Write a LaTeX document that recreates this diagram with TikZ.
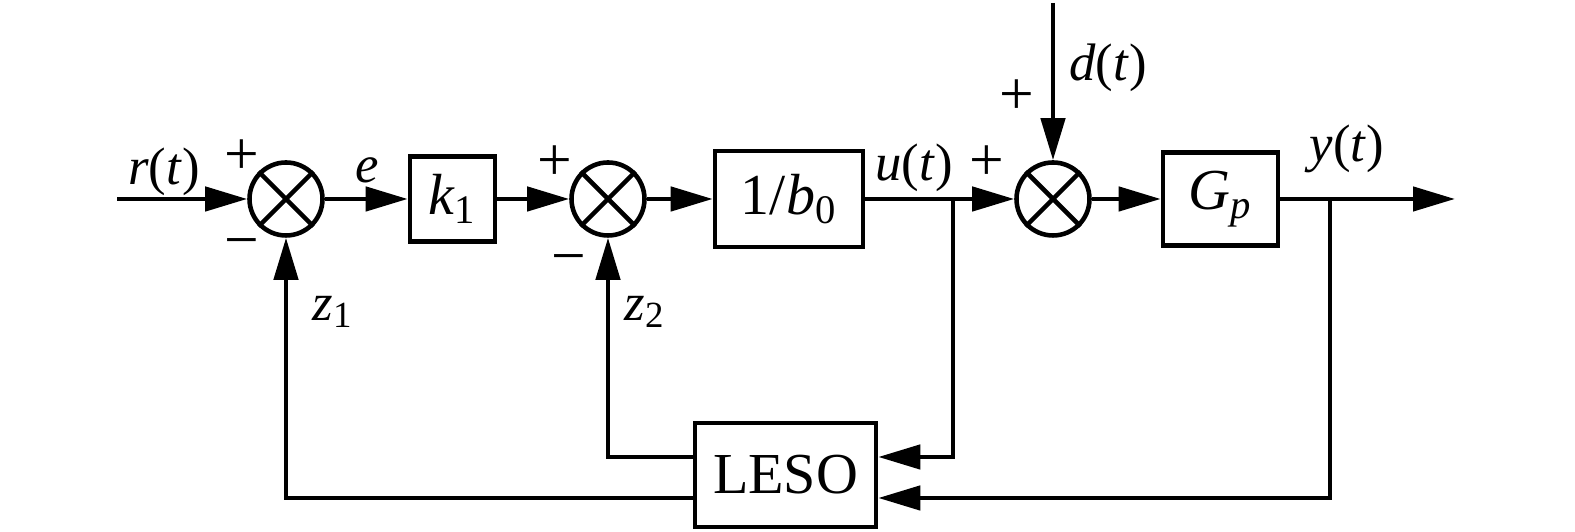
\documentclass[tikz,border=0pt]{standalone}
\usepackage{fontspec}
\setmainfont{Liberation Serif}[ItalicFont=Liberation Serif Italic]
\usetikzlibrary{arrows.meta}
\begin{document}
\begin{tikzpicture}[line width=1.3pt,
 sum/.style={draw,circle,minimum size=7.3mm,inner sep=0pt},
 blk/.style={draw,inner sep=0pt,font=\fontsize{16.5}{18}\selectfont},
 lab/.style={font=\fontsize{15}{17}\selectfont},
 sgn/.style={font=\fontsize{17.5}{20}\selectfont},
 tip/.style={-{Triangle[length=4.2mm,width=2.4mm]}}]
 \useasboundingbox (0,0) rectangle (15.75,5.32);
 \node[sum] (s1) at (2.86,3.33) {};
 \node[sum] (s2) at (6.08,3.33) {};
 \node[sum] (s3) at (10.53,3.33) {};
 \foreach \s in {s1,s2,s3} \draw (\s.north west) -- (\s.south east) (\s.north east) -- (\s.south west);
 \node[blk,minimum width=8.5mm,minimum height=8.5mm] (k1) at (4.525,3.33) {\textit{k}\textsubscript{1}};
 \node[blk,minimum width=14.8mm,minimum height=9.6mm] (b0) at (7.89,3.33) {1/\textit{b}\textsubscript{0}};
 \node[blk,minimum width=11.5mm,minimum height=9.3mm] (gp) at (12.205,3.33) {\textit{G}\textsubscript{\textit{p}}};
 \node[blk,minimum width=18.1mm,minimum height=10.4mm] (leso) at (7.855,0.57) {LESO};
 \coordinate (in) at (1.17,3.33);
 \coordinate (out) at (14.55,3.33);
 \coordinate (dt) at (10.53,5.29);
 \coordinate (uj) at (9.53,3.33);
 \coordinate (yj) at (13.30,3.33);
 \draw[tip] (in) -- (s1.west);
 \draw[tip] (s1.east) -- (k1.west);
 \draw[tip] (k1.east) -- (s2.west);
 \draw[tip] (s2.east) -- (b0.west);
 \draw[tip] (b0.east) -- (s3.west);
 \draw[tip] (s3.east) -- (gp.west);
 \draw[tip] (gp.east) -- (out);
 \draw[tip] (dt) -- (s3.north);
 \draw[tip] (uj) |- ([yshift=1.8mm]leso.east);
 \draw[tip] (yj) |- ([yshift=-2.3mm]leso.east);
 \draw[tip] ([yshift=1.8mm]leso.west) -| (s2.south);
 \draw[tip] ([yshift=-2.3mm]leso.west) -| (s1.south);
 \node[lab] (rt) at (1.64,3.60) {\textit{r}(\textit{t})};
 \node[lab] (e) at (3.67,3.62) {\textit{e}};
 \node[lab] (z1) at (3.33,2.20) {\textit{z}\textsubscript{1}};
 \node[lab] (z2) at (6.45,2.20) {\textit{z}\textsubscript{2}};
 \node[lab] (ut) at (9.14,3.64) {\textit{u}(\textit{t})};
 \node[lab] (dtl) at (11.08,4.64) {\textit{d}(\textit{t})};
 \node[lab] (yt) at (13.47,3.83) {\textit{y}(\textit{t})};
 \node[sgn] (p1) at (2.42,3.75) {+};
 \node[sgn] (m1) at (2.42,2.82) {−};
 \node[sgn] (p2) at (5.55,3.69) {+};
 \node[sgn] (m2) at (5.69,2.66) {−};
 \node[sgn] (p3) at (9.87,3.69) {+};
 \node[sgn] (p4) at (10.17,4.35) {+};
\end{tikzpicture}
\end{document}
